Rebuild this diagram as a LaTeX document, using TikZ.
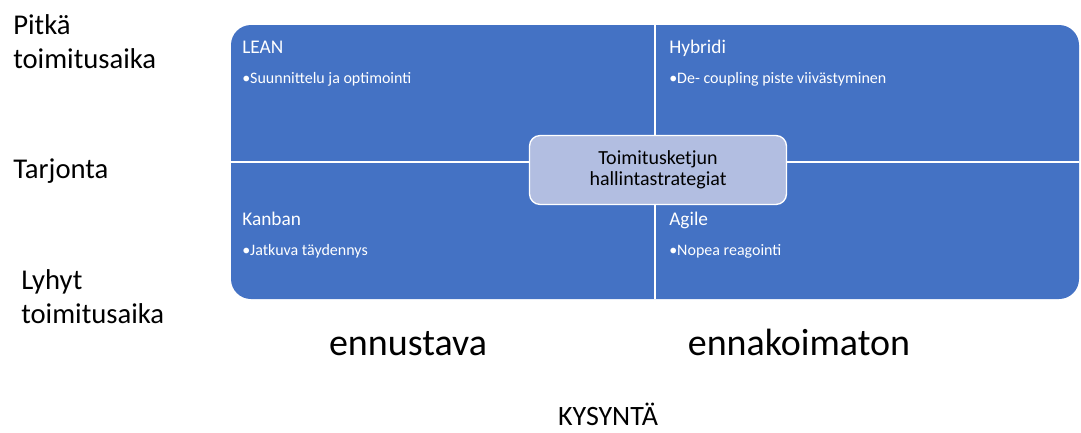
\documentclass[tikz,border=0pt]{standalone}
\usepackage{fontspec}
\setmainfont{Carlito}
\usetikzlibrary{positioning}
\definecolor{quadblue}{HTML}{4472C4}
\definecolor{hubfill}{HTML}{B2BEE1}
\tikzstyle{grid} = [rectangle, rounded corners=15pt, fill=quadblue, draw=none, minimum width=636pt, minimum height=205.5pt, inner sep=0pt]
\tikzstyle{divider} = [white, line width=1pt]
\tikzstyle{hub} = [rectangle, rounded corners=8pt, draw=white, line width=1pt, fill=hubfill, minimum width=192.75pt, minimum height=51.75pt, align=center, font=\fontsize{15}{16}\selectfont]
\tikzstyle{title} = [anchor=base west, inner sep=0pt, text=white, font=\fontsize{14.5}{16}\selectfont]
\tikzstyle{item} = [anchor=base west, inner sep=0pt, text=white, font=\fontsize{12}{13}\selectfont]
\tikzstyle{side} = [anchor=base west, inner sep=0pt, align=left, font=\fontsize{21.5}{25}\selectfont]
\tikzstyle{demand} = [anchor=base, inner sep=0pt, font=\fontsize{28.5}{32}\selectfont]

\begin{document}
\begin{tikzpicture}[x=0.75pt,y=-0.75pt]
\useasboundingbox (0,0) rectangle (1081,432);

% quadrants
\node (grid) [grid] at (655,162) {};
\draw [divider] (grid.north) -- (grid.south);
\draw [divider] (grid.west) -- (grid.east);

\node (lean) [title] at (242,53) {LEAN};
\node (leanitem) [item] at (242,83) {\textbullet Suunnittelu ja optimointi};
\node (hybrid) [title] at (669,53) {Hybridi};
\node (hybriditem) [item] at (669,83) {\textbullet De- coupling piste viivästyminen};
\node (kanban) [title] at (242,225) {Kanban};
\node (kanbanitem) [item] at (242,255) {\textbullet Jatkuva täydennys};
\node (agile) [title] at (669,225) {Agile};
\node (agileitem) [item] at (669,255) {\textbullet Nopea reagointi};

\node (hub) [hub] at (658,170) {Toimitusketjun\\hallintastrategiat};

% supply axis (base = last line)
\node (long) [side] at (13,68) {Pitkä\\toimitusaika};
\node (supply) [side] at (13,178) {Tarjonta};
\node (short) [side] at (21,323) {Lyhyt\\toimitusaika};

% demand axis
\node (forecast) [demand] at (408,355) {ennustava};
\node (unforeseen) [demand] at (799,355) {ennakoimaton};
\node (demandlbl) [anchor=base, inner sep=0pt, font=\fontsize{21}{24}\selectfont] at (608,425) {KYSYNTÄ};
\end{tikzpicture}
\end{document}
